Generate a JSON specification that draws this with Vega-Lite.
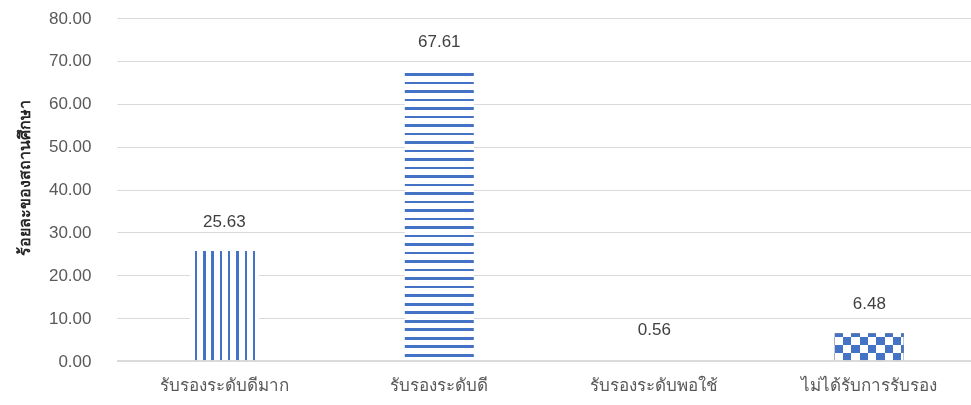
{
  "$schema": "https://vega.github.io/schema/vega-lite/v6.json",
  "width": 854,
  "height": 343,
  "autosize": {"type": "none"},
  "padding": {"left": 117, "top": 18, "right": 0, "bottom": 44},
  "background": "white",
  "config": {"view": {"stroke": null}, "font": "Liberation Sans"},
  "data": {
    "values": [
      {"cat": "รับรองระดับดีมาก", "value": 25.63},
      {"cat": "รับรองระดับดี", "value": 67.61},
      {"cat": "รับรองระดับพอใช้", "value": 0.56},
      {"cat": "ไม่ได้รับการรับรอง", "value": 6.48}
    ]
  },
  "layer": [
    {
      "encoding": {
        "x": {
          "field": "cat",
          "type": "nominal",
          "sort": null,
          "scale": {
            "domain": ["รับรองระดับดีมาก", "รับรองระดับดี", "รับรองระดับพอใช้", "ไม่ได้รับการรับรอง"],
            "paddingInner": 0.679,
            "paddingOuter": 0.3256,
            "align": 0.52
          },
          "axis": {
            "title": null,
            "domain": false,
            "ticks": false,
            "labelAngle": 0,
            "labelFontSize": 17,
            "labelColor": "#595959",
            "labelPadding": 16
          }
        },
        "y": {
          "field": "value",
          "type": "quantitative",
          "scale": {"domain": [0, 80]},
          "axis": {
            "title": "ร้อยละของสถานศึกษา",
            "titleFontSize": 16,
            "titleFontWeight": "bold",
            "titleColor": "#262626",
            "titleAngle": -90,
            "titleAlign": "center",
            "titleBaseline": "middle",
            "titleX": -93,
            "titleY": 159,
            "domain": false,
            "ticks": false,
            "values": [0, 10, 20, 30, 40, 50, 60, 70, 80],
            "format": ".2f",
            "labelFontSize": 17,
            "labelColor": "#595959",
            "labelPadding": 26,
            "gridColor": "#d9d9d9",
            "gridWidth": 1
          }
        }
      },
      "layer": [
        {
          "transform": [{"filter": {"field": "cat", "equal": "รับรองระดับดีมาก"}}],
          "mark": {
            "type": "bar",
            "fill": {
              "gradient": "linear", "x1": 0, "y1": 0, "x2": 1, "y2": 0,
              "stops": [
                {"offset": 0, "color": "white"},
                {"offset": 0.072, "color": "white"}, {"offset": 0.072, "color": "#4472C4"}, {"offset": 0.108, "color": "#4472C4"}, {"offset": 0.108, "color": "white"},
                {"offset": 0.1923, "color": "white"}, {"offset": 0.1923, "color": "#4472C4"}, {"offset": 0.2283, "color": "#4472C4"}, {"offset": 0.2283, "color": "white"},
                {"offset": 0.3126, "color": "white"}, {"offset": 0.3126, "color": "#4472C4"}, {"offset": 0.3486, "color": "#4472C4"}, {"offset": 0.3486, "color": "white"},
                {"offset": 0.4329, "color": "white"}, {"offset": 0.4329, "color": "#4472C4"}, {"offset": 0.4689, "color": "#4472C4"}, {"offset": 0.4689, "color": "white"},
                {"offset": 0.5532, "color": "white"}, {"offset": 0.5532, "color": "#4472C4"}, {"offset": 0.5892, "color": "#4472C4"}, {"offset": 0.5892, "color": "white"},
                {"offset": 0.6735, "color": "white"}, {"offset": 0.6735, "color": "#4472C4"}, {"offset": 0.7095, "color": "#4472C4"}, {"offset": 0.7095, "color": "white"},
                {"offset": 0.7938, "color": "white"}, {"offset": 0.7938, "color": "#4472C4"}, {"offset": 0.8298, "color": "#4472C4"}, {"offset": 0.8298, "color": "white"},
                {"offset": 0.9141, "color": "white"}, {"offset": 0.9141, "color": "#4472C4"}, {"offset": 0.9501, "color": "#4472C4"}, {"offset": 0.9501, "color": "white"},
                {"offset": 1, "color": "white"}
              ]
            }
          }
        },
        {
          "transform": [{"filter": {"field": "cat", "equal": "รับรองระดับดี"}}],
          "mark": {
            "type": "bar",
            "fill": {
              "gradient": "linear", "x1": 0, "y1": 0, "x2": 0, "y2": 1,
              "stops": [
                {"offset": 0, "color": "white"},
                {"offset": 0.0066, "color": "white"}, {"offset": 0.0066, "color": "#4472C4"}, {"offset": 0.0156, "color": "#4472C4"}, {"offset": 0.0156, "color": "white"},
                {"offset": 0.0360, "color": "white"}, {"offset": 0.0360, "color": "#4472C4"}, {"offset": 0.0450, "color": "#4472C4"}, {"offset": 0.0450, "color": "white"},
                {"offset": 0.0653, "color": "white"}, {"offset": 0.0653, "color": "#4472C4"}, {"offset": 0.0743, "color": "#4472C4"}, {"offset": 0.0743, "color": "white"},
                {"offset": 0.0947, "color": "white"}, {"offset": 0.0947, "color": "#4472C4"}, {"offset": 0.1037, "color": "#4472C4"}, {"offset": 0.1037, "color": "white"},
                {"offset": 0.1241, "color": "white"}, {"offset": 0.1241, "color": "#4472C4"}, {"offset": 0.1331, "color": "#4472C4"}, {"offset": 0.1331, "color": "white"},
                {"offset": 0.1535, "color": "white"}, {"offset": 0.1535, "color": "#4472C4"}, {"offset": 0.1625, "color": "#4472C4"}, {"offset": 0.1625, "color": "white"},
                {"offset": 0.1828, "color": "white"}, {"offset": 0.1828, "color": "#4472C4"}, {"offset": 0.1918, "color": "#4472C4"}, {"offset": 0.1918, "color": "white"},
                {"offset": 0.2122, "color": "white"}, {"offset": 0.2122, "color": "#4472C4"}, {"offset": 0.2212, "color": "#4472C4"}, {"offset": 0.2212, "color": "white"},
                {"offset": 0.2416, "color": "white"}, {"offset": 0.2416, "color": "#4472C4"}, {"offset": 0.2506, "color": "#4472C4"}, {"offset": 0.2506, "color": "white"},
                {"offset": 0.2709, "color": "white"}, {"offset": 0.2709, "color": "#4472C4"}, {"offset": 0.2799, "color": "#4472C4"}, {"offset": 0.2799, "color": "white"},
                {"offset": 0.3003, "color": "white"}, {"offset": 0.3003, "color": "#4472C4"}, {"offset": 0.3093, "color": "#4472C4"}, {"offset": 0.3093, "color": "white"},
                {"offset": 0.3297, "color": "white"}, {"offset": 0.3297, "color": "#4472C4"}, {"offset": 0.3387, "color": "#4472C4"}, {"offset": 0.3387, "color": "white"},
                {"offset": 0.3590, "color": "white"}, {"offset": 0.3590, "color": "#4472C4"}, {"offset": 0.3680, "color": "#4472C4"}, {"offset": 0.3680, "color": "white"},
                {"offset": 0.3884, "color": "white"}, {"offset": 0.3884, "color": "#4472C4"}, {"offset": 0.3974, "color": "#4472C4"}, {"offset": 0.3974, "color": "white"},
                {"offset": 0.4178, "color": "white"}, {"offset": 0.4178, "color": "#4472C4"}, {"offset": 0.4268, "color": "#4472C4"}, {"offset": 0.4268, "color": "white"},
                {"offset": 0.4472, "color": "white"}, {"offset": 0.4472, "color": "#4472C4"}, {"offset": 0.4562, "color": "#4472C4"}, {"offset": 0.4562, "color": "white"},
                {"offset": 0.4765, "color": "white"}, {"offset": 0.4765, "color": "#4472C4"}, {"offset": 0.4855, "color": "#4472C4"}, {"offset": 0.4855, "color": "white"},
                {"offset": 0.5059, "color": "white"}, {"offset": 0.5059, "color": "#4472C4"}, {"offset": 0.5149, "color": "#4472C4"}, {"offset": 0.5149, "color": "white"},
                {"offset": 0.5353, "color": "white"}, {"offset": 0.5353, "color": "#4472C4"}, {"offset": 0.5443, "color": "#4472C4"}, {"offset": 0.5443, "color": "white"},
                {"offset": 0.5646, "color": "white"}, {"offset": 0.5646, "color": "#4472C4"}, {"offset": 0.5736, "color": "#4472C4"}, {"offset": 0.5736, "color": "white"},
                {"offset": 0.5940, "color": "white"}, {"offset": 0.5940, "color": "#4472C4"}, {"offset": 0.6030, "color": "#4472C4"}, {"offset": 0.6030, "color": "white"},
                {"offset": 0.6234, "color": "white"}, {"offset": 0.6234, "color": "#4472C4"}, {"offset": 0.6324, "color": "#4472C4"}, {"offset": 0.6324, "color": "white"},
                {"offset": 0.6527, "color": "white"}, {"offset": 0.6527, "color": "#4472C4"}, {"offset": 0.6617, "color": "#4472C4"}, {"offset": 0.6617, "color": "white"},
                {"offset": 0.6821, "color": "white"}, {"offset": 0.6821, "color": "#4472C4"}, {"offset": 0.6911, "color": "#4472C4"}, {"offset": 0.6911, "color": "white"},
                {"offset": 0.7115, "color": "white"}, {"offset": 0.7115, "color": "#4472C4"}, {"offset": 0.7205, "color": "#4472C4"}, {"offset": 0.7205, "color": "white"},
                {"offset": 0.7408, "color": "white"}, {"offset": 0.7408, "color": "#4472C4"}, {"offset": 0.7498, "color": "#4472C4"}, {"offset": 0.7498, "color": "white"},
                {"offset": 0.7702, "color": "white"}, {"offset": 0.7702, "color": "#4472C4"}, {"offset": 0.7792, "color": "#4472C4"}, {"offset": 0.7792, "color": "white"},
                {"offset": 0.7996, "color": "white"}, {"offset": 0.7996, "color": "#4472C4"}, {"offset": 0.8086, "color": "#4472C4"}, {"offset": 0.8086, "color": "white"},
                {"offset": 0.8290, "color": "white"}, {"offset": 0.8290, "color": "#4472C4"}, {"offset": 0.8380, "color": "#4472C4"}, {"offset": 0.8380, "color": "white"},
                {"offset": 0.8583, "color": "white"}, {"offset": 0.8583, "color": "#4472C4"}, {"offset": 0.8673, "color": "#4472C4"}, {"offset": 0.8673, "color": "white"},
                {"offset": 0.8877, "color": "white"}, {"offset": 0.8877, "color": "#4472C4"}, {"offset": 0.8967, "color": "#4472C4"}, {"offset": 0.8967, "color": "white"},
                {"offset": 0.9171, "color": "white"}, {"offset": 0.9171, "color": "#4472C4"}, {"offset": 0.9261, "color": "#4472C4"}, {"offset": 0.9261, "color": "white"},
                {"offset": 0.9464, "color": "white"}, {"offset": 0.9464, "color": "#4472C4"}, {"offset": 0.9554, "color": "#4472C4"}, {"offset": 0.9554, "color": "white"},
                {"offset": 0.9758, "color": "white"}, {"offset": 0.9758, "color": "#4472C4"}, {"offset": 0.9848, "color": "#4472C4"}, {"offset": 0.9848, "color": "white"},
                {"offset": 1, "color": "white"}
              ]
            }
          }
        },
        {
          "transform": [{"filter": {"field": "cat", "equal": "ไม่ได้รับการรับรอง"}}],
          "mark": {
            "type": "bar",
            "fill": {
              "gradient": "linear", "x1": 0, "y1": 0, "x2": 1, "y2": 0,
              "stops": [
                {"offset": 0, "color": "black"}, {"offset": 0.1207, "color": "black"},
                {"offset": 0.1207, "color": "white"}, {"offset": 0.2415, "color": "white"},
                {"offset": 0.2415, "color": "black"}, {"offset": 0.3622, "color": "black"},
                {"offset": 0.3622, "color": "white"}, {"offset": 0.483, "color": "white"},
                {"offset": 0.483, "color": "black"}, {"offset": 0.6037, "color": "black"},
                {"offset": 0.6037, "color": "white"}, {"offset": 0.7245, "color": "white"},
                {"offset": 0.7245, "color": "black"}, {"offset": 0.8452, "color": "black"},
                {"offset": 0.8452, "color": "white"}, {"offset": 0.966, "color": "white"},
                {"offset": 0.966, "color": "black"}, {"offset": 1, "color": "black"}
              ]
            }
          }
        },
        {
          "transform": [{"filter": {"field": "cat", "equal": "ไม่ได้รับการรับรอง"}}],
          "mark": {
            "type": "bar",
            "blend": "exclusion",
            "fill": {
              "gradient": "linear", "x1": 0, "y1": 0, "x2": 0, "y2": 1,
              "stops": [
                {"offset": 0, "color": "black"}, {"offset": 0.126, "color": "black"},
                {"offset": 0.126, "color": "white"}, {"offset": 0.435, "color": "white"},
                {"offset": 0.435, "color": "black"}, {"offset": 0.723, "color": "black"},
                {"offset": 0.723, "color": "white"}, {"offset": 1, "color": "white"}
              ]
            }
          }
        },
        {
          "transform": [{"filter": {"field": "cat", "equal": "ไม่ได้รับการรับรอง"}}],
          "mark": {"type": "bar", "blend": "screen", "fill": "#4472C4"}
        },
        {
          "mark": {"type": "text", "dy": -24, "baseline": "alphabetic", "fontSize": 17, "color": "#404040"},
          "encoding": {"text": {"field": "value", "type": "quantitative", "format": ".2f"}}
        }
      ]
    },
    {
      "mark": {"type": "rule", "color": "#d9d9d9", "strokeWidth": 1},
      "encoding": {"y": {"datum": 0, "type": "quantitative"}}
    }
  ]
}
